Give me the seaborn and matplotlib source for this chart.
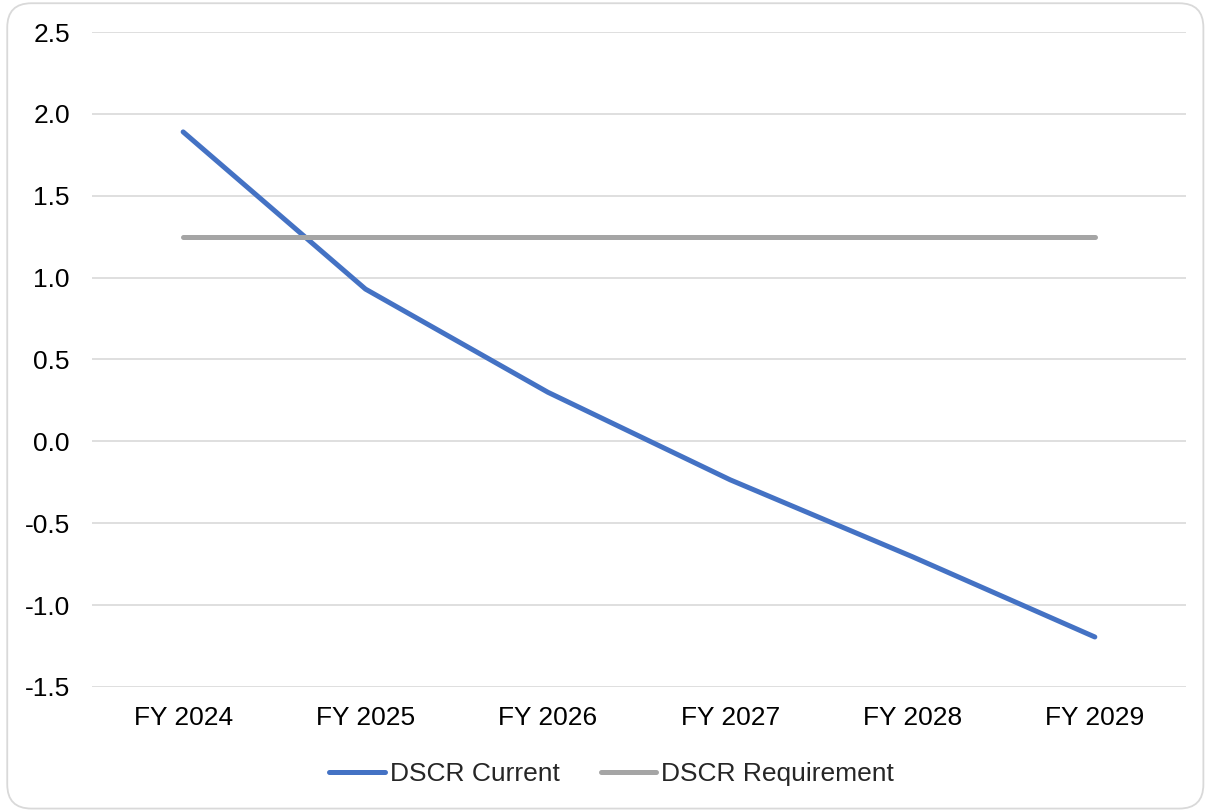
import pandas as pd
import matplotlib.pyplot as plt
import seaborn as sns
from matplotlib.patches import FancyBboxPatch
from matplotlib.ticker import FormatStrFormatter

# data
years = ["FY 2024", "FY 2025", "FY 2026", "FY 2027", "FY 2028", "FY 2029"]
dscr_current = [1.89, 0.93, 0.30, -0.235, -0.705, -1.195]
dscr_requirement = [1.25, 1.25, 1.25, 1.25, 1.25, 1.25]
series_names = ["DSCR Current", "DSCR Requirement"]
y_ticks = [-1.5, -1.0, -0.5, 0.0, 0.5, 1.0, 1.5, 2.0, 2.5]

df = pd.DataFrame({
    "year": years * 2,
    "value": dscr_current + dscr_requirement,
    "series": [series_names[0]] * len(years) + [series_names[1]] * len(years),
})

sns.set_style("white")
plt.rcParams["font.family"] = ["Liberation Sans", "DejaVu Sans"]
plt.rcParams["axes.unicode_minus"] = False

fig = plt.figure(figsize=(12.07, 8.11), dpi=100)
ax = fig.add_axes([0.0762, 0.153, 0.9064, 0.8075])

# rounded chart border
border = FancyBboxPatch((0.006, 0.003), 0.991, 0.993,
                        boxstyle="round,pad=0,rounding_size=0.02",
                        transform=fig.transFigure, facecolor="white",
                        edgecolor="#D9D9D9", linewidth=1.3, zorder=-10,
                        mutation_aspect=1207 / 811)
fig.patches.append(border)

sns.lineplot(
    data=df, x="year", y="value", hue="series",
    palette={"DSCR Current": "#4472C4", "DSCR Requirement": "#A5A5A5"},
    linewidth=3.6, ax=ax, sort=False, legend=True,
)
for line in ax.get_lines():
    line.set_solid_capstyle("round")
    line.set_solid_joinstyle("round")

ax.set_xlim(-0.5, len(years) - 0.5)
ax.set_ylim(-1.5, 2.5)
ax.set_yticks(y_ticks)
ax.yaxis.set_major_formatter(FormatStrFormatter("%.1f"))
ax.grid(axis="y", color="#D9D9D9", linewidth=1.2)
ax.set_axisbelow(True)
for s in ax.spines.values():
    s.set_visible(False)
ax.tick_params(axis="both", length=0, labelsize=19, colors="#000000")
ax.tick_params(axis="y", pad=16)
ax.tick_params(axis="x", pad=14)
ax.set_xlabel("")
ax.set_ylabel("")

handles, labels = ax.get_legend_handles_labels()
leg = ax.legend(handles, labels, loc="center", bbox_to_anchor=(0.475, -0.133),
                ncol=2, frameon=False, fontsize=19, handlelength=2.1,
                handletextpad=0.2, columnspacing=1.55)
for h in leg.get_lines():
    h.set_linewidth(3.6)
    h.set_solid_capstyle("round")

fig.savefig("out.png", dpi=100, facecolor="white")
